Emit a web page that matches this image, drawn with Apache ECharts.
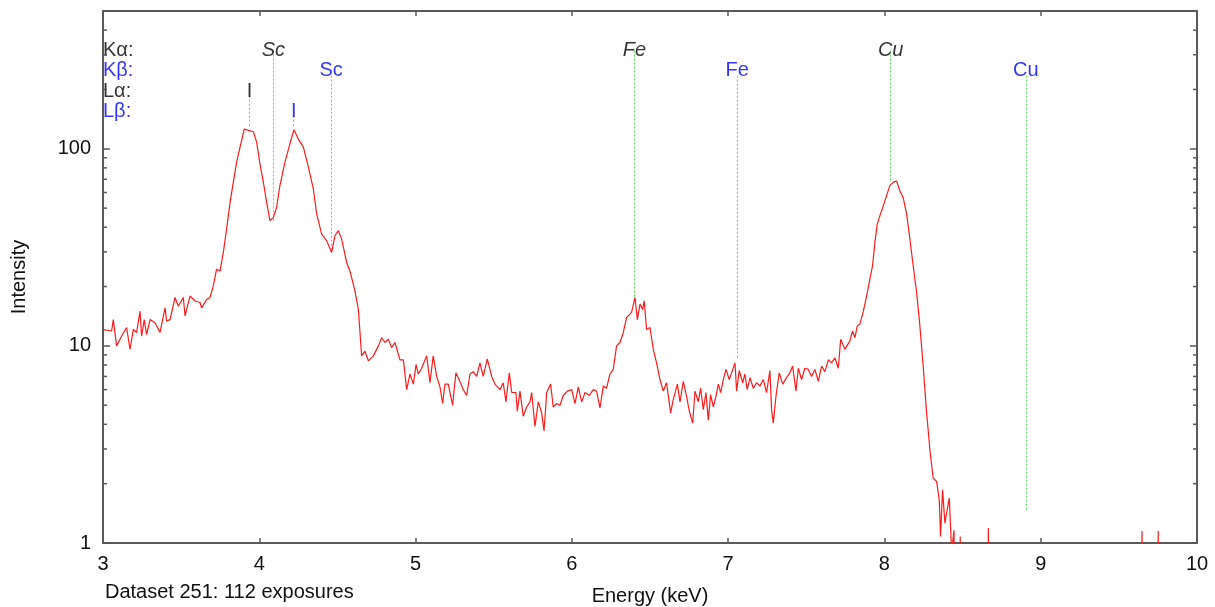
<!DOCTYPE html>
<html>
<head>
<meta charset="utf-8">
<title>Spectrum - log intensity</title>
<script src="https://cdn.jsdelivr.net/npm/echarts@6/dist/echarts.min.js"></script>
<style>
    html, body { margin: 0; padding: 0; background: #fff; }
    #spectrum { width: 1215px; height: 607px; }
</style>
</head>
<body>
<div id="spectrum"></div>
<script>

// Spectrum data
// ------------------------------

var energy = [
    3.002, 3.055, 3.066, 3.087, 3.119, 3.151, 3.173, 3.194, 3.215, 3.237,
    3.247, 3.264, 3.279, 3.301, 3.333, 3.365, 3.397, 3.407, 3.429, 3.461,
    3.482, 3.514, 3.525, 3.557, 3.589, 3.621, 3.631, 3.663, 3.685, 3.706,
    3.727, 3.749, 3.770, 3.791, 3.813, 3.834, 3.855, 3.877, 3.904, 3.930,
    3.962, 3.983, 4.004, 4.026, 4.047, 4.068, 4.090, 4.111, 4.132, 4.164,
    4.196, 4.222, 4.250, 4.282, 4.314, 4.346, 4.367, 4.399, 4.431, 4.463,
    4.484, 4.506, 4.527, 4.559, 4.580, 4.612, 4.634, 4.655, 4.676, 4.698,
    4.730, 4.762, 4.783, 4.804, 4.826, 4.847, 4.868, 4.900, 4.922, 4.943,
    4.964, 4.986, 5.003, 5.017, 5.039, 5.071, 5.092, 5.113, 5.135, 5.156,
    5.173, 5.188, 5.209, 5.237, 5.258, 5.284, 5.305, 5.327, 5.348, 5.369,
    5.391, 5.412, 5.433, 5.459, 5.487, 5.508, 5.540, 5.561, 5.578, 5.600,
    5.615, 5.642, 5.651, 5.668, 5.689, 5.711, 5.732, 5.743, 5.764, 5.785,
    5.807, 5.822, 5.839, 5.864, 5.881, 5.903, 5.924, 5.945, 5.971, 5.999,
    6.020, 6.041, 6.063, 6.084, 6.112, 6.137, 6.158, 6.180, 6.201, 6.222,
    6.244, 6.265, 6.286, 6.308, 6.329, 6.350, 6.382, 6.404, 6.419, 6.436,
    6.453, 6.463, 6.478, 6.500, 6.521, 6.542, 6.564, 6.585, 6.606, 6.632,
    6.649, 6.675, 6.692, 6.713, 6.734, 6.751, 6.773, 6.788, 6.809, 6.824,
    6.841, 6.858, 6.873, 6.888, 6.905, 6.922, 6.937, 6.952, 6.969, 6.986,
    7.007, 7.022, 7.044, 7.054, 7.071, 7.093, 7.107, 7.122, 7.140, 7.161,
    7.182, 7.203, 7.225, 7.246, 7.267, 7.278, 7.289, 7.306, 7.327, 7.349,
    7.374, 7.395, 7.413, 7.434, 7.449, 7.470, 7.491, 7.513, 7.534, 7.555,
    7.577, 7.598, 7.619, 7.641, 7.662, 7.683, 7.705, 7.720, 7.747, 7.779,
    7.796, 7.811, 7.826, 7.843, 7.865, 7.886, 7.907, 7.924, 7.939, 7.954,
    7.971, 7.993, 8.014, 8.035, 8.057, 8.078, 8.099, 8.120, 8.142, 8.163,
    8.184, 8.206, 8.227, 8.248, 8.270, 8.291, 8.312, 8.334, 8.351, 8.359,
    8.372, 8.387, 8.398, 8.415, 8.430, 8.445, 8.455, 8.475, 8.485, 8.495,
    8.655, 8.665, 8.675, 9.640, 9.648, 9.656, 9.745, 9.752, 9.760, 10.0
];

var intensity = [
    12.1, 11.9, 13.6, 10.0, 11.2, 12.4, 9.6, 12.1, 11.7, 15.0,
    11.2, 13.6, 11.4, 13.6, 13.1, 11.7, 15.6, 13.4, 13.6, 17.6,
    15.9, 17.6, 14.2, 17.9, 16.9, 16.6, 15.6, 17.2, 17.6, 20.2,
    24.5, 24.0, 29.8, 39.2, 53.5, 67.7, 85.5, 102, 126, 124,
    122, 108, 84, 67.7, 53.5, 43.2, 44.9, 50.5, 65, 85.5,
    106, 125, 112, 102, 80.7, 62.6, 46.7, 36.9, 34.2, 29.8,
    36.2, 38.4, 34.8, 26.5, 24.0, 19.0, 15.3, 8.9, 9.4, 8.4,
    8.9, 10.0, 11.0, 10.4, 10.8, 9.8, 10.4, 8.5, 8.5, 6.0,
    7.2, 6.4, 8.05, 7.2, 7.7, 8.9, 6.5, 8.9, 7.0, 6.2,
    5.1, 6.4, 6.4, 5.0, 7.3, 6.6, 6.0, 5.6, 7.2, 7.4,
    7.0, 8.2, 7.0, 8.6, 7.0, 6.4, 6.0, 6.5, 5.2, 7.3,
    5.8, 5.8, 4.66, 5.9, 4.4, 4.9, 5.2, 5.8, 3.9, 5.2,
    4.57, 3.7, 5.8, 6.4, 4.9, 5.1, 5.0, 5.6, 5.9, 6.0,
    5.1, 6.2, 5.2, 5.8, 5.6, 6.0, 5.9, 4.85, 6.25, 6.1,
    7.2, 7.6, 10.0, 10.4, 11.7, 13.9, 14.8, 17.6, 13.6, 16.3,
    15.3, 16.9, 12.1, 12.4, 9.6, 8.2, 6.75, 5.9, 6.5, 4.57,
    5.35, 6.4, 5.2, 6.6, 5.55, 4.7, 4.06, 5.9, 5.2, 6.1,
    4.75, 5.8, 4.2, 5.66, 4.9, 5.55, 6.4, 5.8, 6.75, 7.6,
    6.75, 7.3, 8.2, 5.9, 7.5, 6.5, 7.2, 6.0, 6.9, 6.1,
    6.5, 6.25, 6.75, 5.8, 7.5, 4.75, 4.06, 5.55, 7.3, 6.4,
    6.9, 7.3, 7.9, 5.9, 7.7, 6.75, 7.7, 7.6, 7.0, 7.6,
    6.6, 7.9, 7.4, 8.5, 8.2, 8.7, 7.7, 10.8, 9.6, 10.6,
    11.9, 11.0, 12.6, 12.9, 15.0, 17.9, 21.8, 25.5, 33.5, 41.5,
    45.8, 51.5, 58, 65, 67.7, 68.5, 61, 56.5, 46.8, 34.8,
    25.5, 18.7, 12.6, 7.9, 4.57, 2.97, 2.13, 2.05, 1.65, 1.08,
    1.86, 1.26, 1.42, 1.69, 0.9, 1.16, 0.1, 0.1, 1.08, 0.1,
    0.1, 1.19, 0.1, 0.1, 1.15, 0.1, 0.1, 1.15, 0.1, 0.1
];

// Emission line markers
var lineLabels = ['Sc', 'Sc', 'Fe', 'Fe', 'Cu', 'Cu', 'I', 'I'];
var lineRows = [0, 1, 0, 1, 0, 1, 2, 3];
var lineEnergies = [4.090, 4.460, 6.400, 7.058, 8.040, 8.905, 3.937, 4.220];
var lineEnds = [43, 31, 17.6, 8.5, 68, 1.47, 130, 130];

// Rows of the line key (K alpha, K beta, L alpha, L beta)
var rowNames = ['K\u03b1:', 'K\u03b2:', 'L\u03b1:', 'L\u03b2:'];
var rowColors = ['#000', '#0000ff', '#000', '#0000ff'];
var rowLevels = [317, 249, 196, 154];
var rowLineTops = [315, 235, 186, 147];

// Axis ticks
var energyTicks = [3, 10, 1];
var intensityRange = [1, 500];
var minorTickValues = [2, 3, 4, 5, 6, 7, 8, 9, 20, 30, 40, 50, 60, 70, 80, 90, 200, 300, 400];


// Setup module
// ------------------------------

var EchartsSpectrumLog = function() {

    var _spectrumChart = function() {
        if (typeof echarts == 'undefined') {
            console.warn('Warning - echarts.min.js is not loaded.');
            return;
        }

        var spectrum_element = document.getElementById('spectrum');
        if (!spectrum_element) return;

        var spectrum = echarts.init(spectrum_element, null, { renderer: 'canvas' });

        var font = '"Liberation Sans", Arial, sans-serif';
        var frame = '#5a5a5a';

        // Series data
        var points = energy.map(function(e, i) { return [e, intensity[i]]; });

        var markerLines = lineEnergies.map(function(e, i) {
            return { coords: [[e, rowLineTops[lineRows[i]]], [e, lineEnds[i]]] };
        });

        var markerTexts = lineEnergies.map(function(e, i) {
            var row = lineRows[i];
            return {
                value: [e, rowLevels[row], lineLabels[i]],
                label: {
                    color: rowColors[row],
                    fontStyle: row === 0 ? 'italic' : 'normal'
                }
            };
        });

        var rowTexts = rowNames.map(function(n, i) {
            return {
                value: [energyTicks[0], rowLevels[i], n],
                label: { color: rowColors[i] }
            };
        });

        var minorTicks = minorTickValues.map(function(v) { return [energyTicks[0], v]; });

        var isDecade = function(v) {
            var l = Math.log10(v);
            return Math.abs(l - Math.round(l)) < 1e-6;
        };

        var xBase = {
            type: 'value',
            min: energyTicks[0],
            max: energyTicks[1],
            interval: energyTicks[2],
            axisLine: { show: true, onZero: false, lineStyle: { color: frame, width: 2 } },
            axisTick: { show: true, inside: true, length: 5, lineStyle: { color: frame, width: 1.5 } },
            splitLine: { show: false }
        };

        var yBase = {
            type: 'log',
            logBase: 10,
            min: intensityRange[0],
            max: intensityRange[1],
            axisLine: { show: true, onZero: false, lineStyle: { color: frame, width: 2 } },
            axisTick: { show: true, inside: true, length: 7, lineStyle: { color: frame, width: 1.5 } },
            splitLine: { show: false }
        };

        spectrum.setOption({
            animation: false,
            textStyle: { fontFamily: font, fontSize: 20, color: '#111' },

            grid: {
                left: 103,
                right: 18,
                top: 11,
                bottom: 64,
                containLabel: false,
                outerBoundsMode: 'none'
            },

            graphic: [{
                type: 'text',
                left: 105,
                top: 582,
                style: {
                    text: 'Dataset 251: 112 exposures',
                    fontFamily: font,
                    fontSize: 20,
                    fill: '#111'
                }
            }],

            // Horizontal axes
            xAxis: [
                Object.assign({}, xBase, {
                    position: 'bottom',
                    name: 'Energy (keV)',
                    nameLocation: 'middle',
                    nameGap: 43,
                    nameTextStyle: { fontFamily: font, fontSize: 20, color: '#111' },
                    axisLabel: { fontFamily: font, fontSize: 20, color: '#111', margin: 11 }
                }),
                Object.assign({}, xBase, {
                    position: 'top',
                    axisLabel: { show: false }
                })
            ],

            // Vertical axes
            yAxis: [
                Object.assign({}, yBase, {
                    position: 'left',
                    name: 'Intensity',
                    nameLocation: 'middle',
                    nameGap: 74,
                    nameTextStyle: { fontFamily: font, fontSize: 20, color: '#111' },
                    axisLabel: {
                        fontFamily: font,
                        fontSize: 20,
                        color: '#111',
                        margin: 12,
                        formatter: function(v) { return isDecade(v) ? String(Math.round(v)) : ''; }
                    }
                }),
                Object.assign({}, yBase, {
                    position: 'right',
                    axisLabel: { show: false }
                })
            ],

            series: [
                // Green marker lines
                {
                    type: 'lines',
                    coordinateSystem: 'cartesian2d',
                    xAxisIndex: 0,
                    yAxisIndex: 0,
                    z: 1,
                    silent: true,
                    lineStyle: { color: '#4ee04e', width: 1, type: [2, 2], opacity: 1 },
                    data: markerLines
                },
                // Spectrum
                {
                    name: 'Intensity',
                    type: 'line',
                    xAxisIndex: 0,
                    yAxisIndex: 0,
                    z: 3,
                    showSymbol: false,
                    clip: true,
                    lineStyle: { color: '#ff1a1a', width: 1.2 },
                    data: points
                },
                // Line names
                {
                    type: 'scatter',
                    xAxisIndex: 0,
                    yAxisIndex: 0,
                    z: 4,
                    symbolSize: 0,
                    silent: true,
                    label: {
                        show: true,
                        position: 'inside',
                        fontFamily: font,
                        fontSize: 20,
                        align: 'center',
                        verticalAlign: 'middle',
                        formatter: function(p) { return p.value[2]; }
                    },
                    data: markerTexts
                },
                // Row key
                {
                    type: 'scatter',
                    xAxisIndex: 0,
                    yAxisIndex: 0,
                    z: 4,
                    symbolSize: 0,
                    silent: true,
                    label: {
                        show: true,
                        position: 'inside',
                        fontFamily: font,
                        fontSize: 20,
                        align: 'left',
                        verticalAlign: 'middle',
                        formatter: function(p) { return p.value[2]; }
                    },
                    data: rowTexts
                },
                // Minor ticks on the log axis, both sides
                {
                    type: 'custom',
                    xAxisIndex: 0,
                    yAxisIndex: 0,
                    z: 5,
                    silent: true,
                    renderItem: function(params, api) {
                        var l = api.coord([energyTicks[0], api.value(1)]);
                        var r = api.coord([energyTicks[1], api.value(1)]);
                        var style = { stroke: frame, lineWidth: 1.5 };
                        return {
                            type: 'group',
                            children: [
                                { type: 'line', shape: { x1: l[0], y1: l[1], x2: l[0] + 4, y2: l[1] }, style: style },
                                { type: 'line', shape: { x1: r[0], y1: r[1], x2: r[0] - 4, y2: r[1] }, style: style }
                            ]
                        };
                    },
                    data: minorTicks
                }
            ]
        });

        window.addEventListener('resize', function() {
            spectrum.resize();
        });
    };

    return {
        init: function() {
            _spectrumChart();
        }
    }
}();


// Initialize module
// ------------------------------

document.addEventListener('DOMContentLoaded', function() {
    EchartsSpectrumLog.init();
});

</script>
</body>
</html>
